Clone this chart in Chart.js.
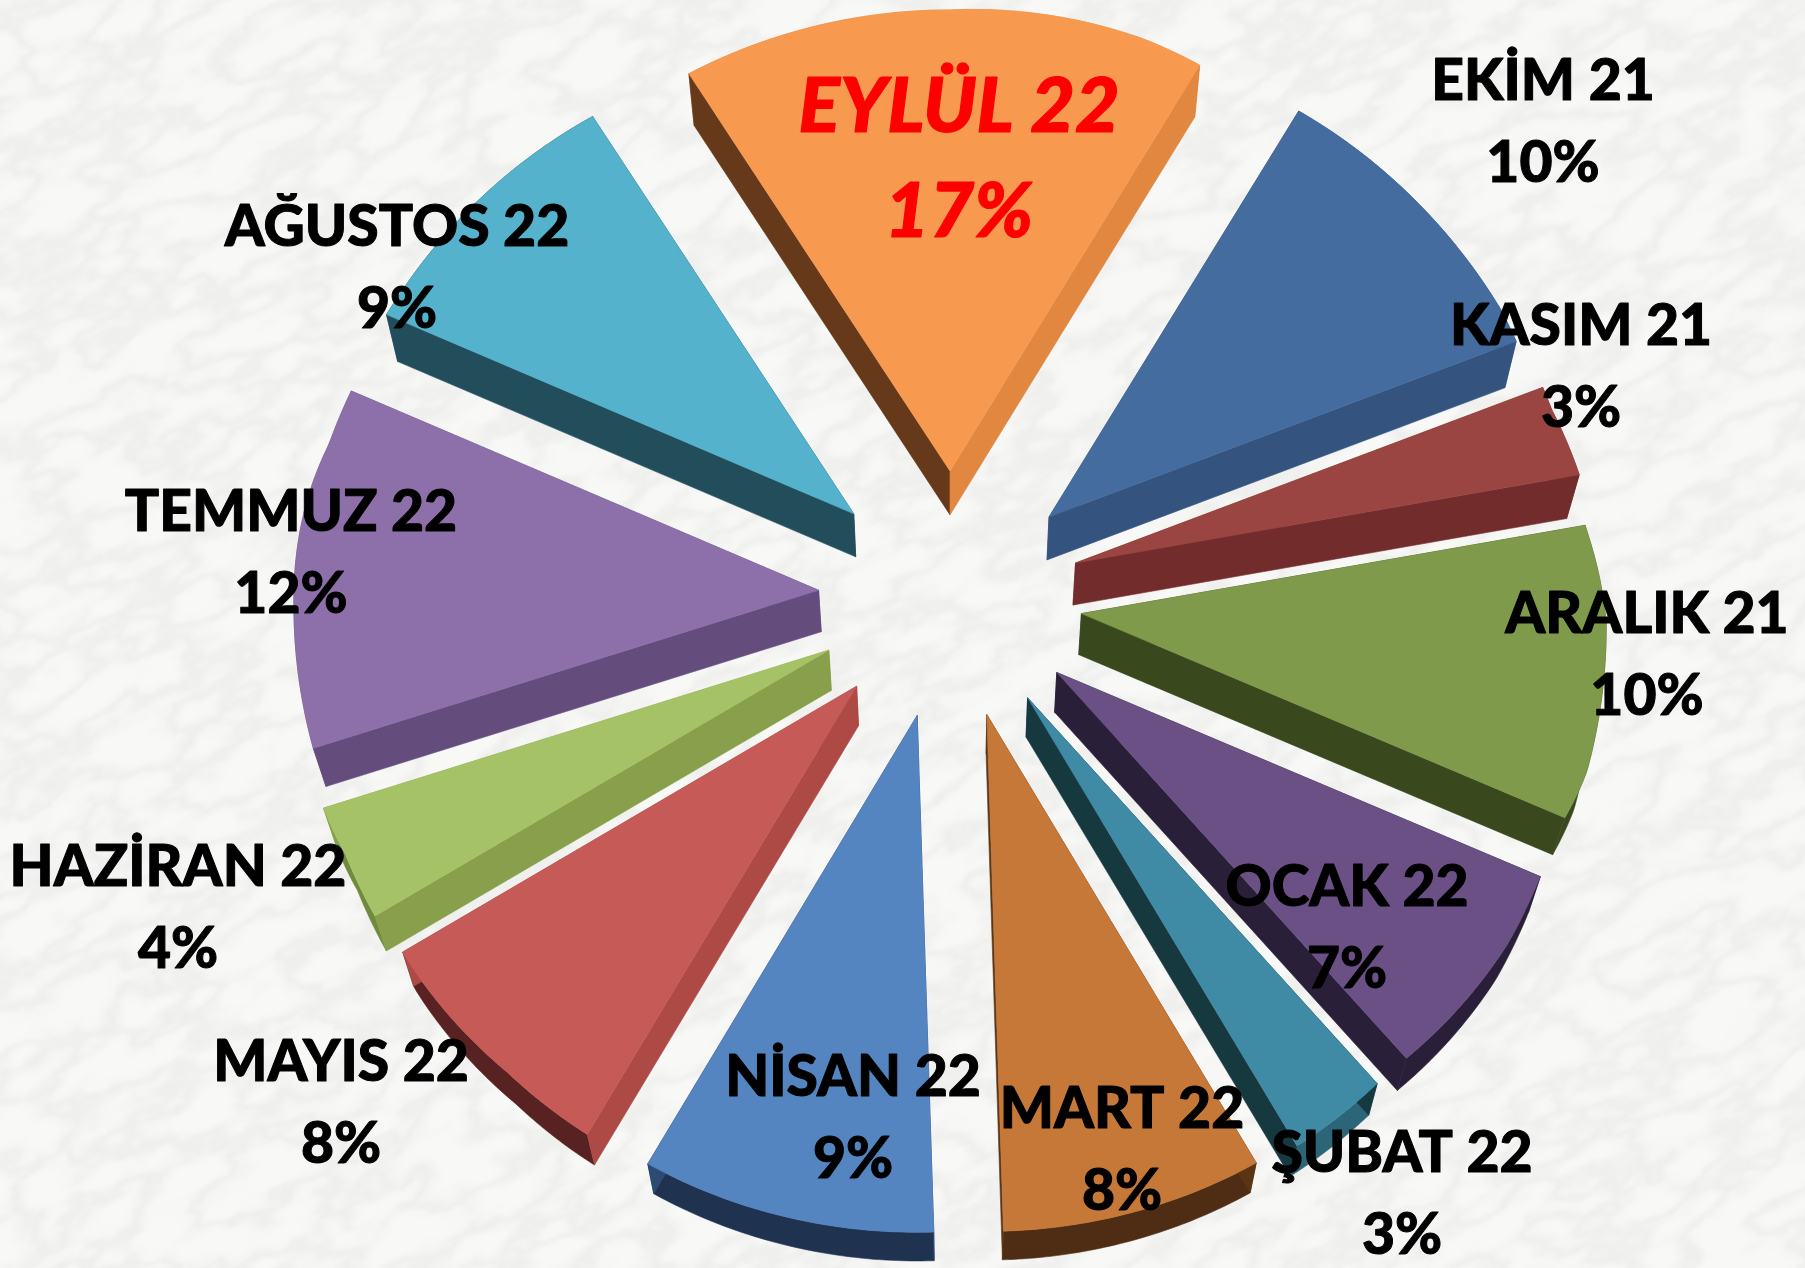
<!DOCTYPE html>
<html lang="tr">
<head>
<meta charset="utf-8">
<title>Aylık Dağılım</title>
<style>
html,body{margin:0;padding:0;width:1805px;height:1268px;overflow:hidden;background:#f8f8f7}
#paper{position:absolute;left:0;top:0;width:1805px;height:1268px;overflow:hidden}
#marble{position:absolute;left:-500px;top:-700px;transform:rotate(-28deg)}
#wrap{position:absolute;left:0;top:0;width:1805px;height:1268px}
</style>
<script src="https://cdn.jsdelivr.net/npm/chart.js@4/dist/chart.umd.min.js"></script>
</head>
<body>
<div id="paper">
<svg id="marble" width="2800" height="2700" xmlns="http://www.w3.org/2000/svg">
  <filter id="veins" x="0" y="0" width="100%" height="100%">
    <feTurbulence type="fractalNoise" baseFrequency="0.011 0.024" numOctaves="6" seed="23"/>
    <feColorMatrix values="0 0 0 0 0.6  0 0 0 0 0.6  0 0 0 0 0.58  1 0 0 0 0"/>
    <feComponentTransfer><feFuncA type="table" tableValues="0 0 0 0 0.05 0.22 0.08 0 0 0 0"/></feComponentTransfer>
    <feGaussianBlur stdDeviation="1.5"/>
  </filter>
  <rect width="2800" height="2700" fill="#f8f8f7"/>
  <rect width="2800" height="2700" filter="url(#veins)"/>
</svg>
</div>
<div id="wrap"><canvas id="c" width="1805" height="1268"></canvas></div>
<script>
// ---- chart data ----
const months = ['EKİM 21','KASIM 21','ARALIK 21','OCAK 22','ŞUBAT 22','MART 22','NİSAN 22','MAYIS 22','HAZİRAN 22','TEMMUZ 22','AĞUSTOS 22','EYLÜL 22'];
const shares = [10,3,10,7,3,8,9,8,4,12,9,17];

// ---- styling ----
const topColors   = ['#456c9e','#9b4542','#7f9a4b','#6b5085','#3f8aa4','#c67838','#5585c0','#c65a57','#a6c266','#8d70aa','#55b2cd','#f79a50'];
const startWalls  = ['#34547f','#732c2c','#3a481e','#2a1f38','#16383f','#5a3515','#2c4a72','#ad4a46','#889f4b','#644d7d','#224e5c','#66391a'];
const endWalls    = ['#34547f','#732c2c','#3a481e','#2a1f38','#16383f','#5a3515','#2c4a72','#ad4a46','#889f4b','#644d7d','#224e5c','#e1873f'];
const outerWalls  = ['#34547f','#732c2c','#3a481e','#2a1f38','#2b6577','#4f2d14','#1f324f','#582122','#6f8a3c','#644d7d','#224e5c','#e1873f'];
const labelXs     = [1543,1581,1647,1347,1402,1122,853,341,178,291,397,959];
const labelYs     = [82,327,615,888,1154,1110,1078,1063,868,513,228,107];
const highlighted = 'EYLÜL 22';

// ---- projection of the exploded pie (tilted camera) ----
const explodeX = 132, explodeY = 124, explodeSag = 7, depth = 0.02, vanishX = 950, vanishY = 2665;
const pieRadius = 530;
const tiltIn  = [-1,-0.861,-0.454,-0.36,-0.218,0,0.279,0.397,0.52,0.75,0.861,1];
const tiltOut = [-0.87,-0.75,-0.376,-0.276,-0.165,0.017,0.298,0.385,0.513,0.728,0.846,0.975];
function tilt(s) {
  for (let i = 1; i < tiltIn.length; i++) {
    if (s <= tiltIn[i]) {
      const f = (s - tiltIn[i - 1]) / (tiltIn[i] - tiltIn[i - 1]);
      return tiltOut[i - 1] + f * (tiltOut[i] - tiltOut[i - 1]);
    }
  }
  return tiltOut[tiltOut.length - 1];
}
function project(ox, oy, c, s, r) {
  const back = Math.min(1, Math.max(0, -s * 2.2));
  const squeeze = 1 + Math.min(s, 0) * 0.085;
  const sideTrim = 1 - 0.01 * (1 - Math.abs(s));
  const leftBack = c < 0 ? 1 + 0.035 * back + 0.03 * Math.max(0, -s - 0.5) : 1;
  const rightLift = c > 0 ? 0.016 * Math.min(1, Math.max(0, (-s - 0.2) / 0.2)) * Math.min(1, c / 0.4) : 0;
  return [ox + c * r * squeeze * leftBack * sideTrim, oy + (tilt(s) - rightLift) * r];
}
function lower(p) { return [p[0] + (vanishX - p[0]) * depth, p[1] + (vanishY - p[1]) * depth]; }
function poly(ctx, pts, fill) {
  ctx.beginPath();
  pts.forEach((p, i) => i ? ctx.lineTo(p[0], p[1]) : ctx.moveTo(p[0], p[1]));
  ctx.closePath();
  ctx.fillStyle = fill; ctx.strokeStyle = fill; ctx.lineWidth = 0.6;
  ctx.fill(); ctx.stroke();
}

const pie3d = {
  id: 'pie3d',
  beforeDatasetDraw(chart, args) {
    const ctx = chart.ctx;
    const arcs = chart.getDatasetMeta(args.index).data;
    const shapes = arcs.map(a => {
      const mid = (a.startAngle + a.endAngle) / 2;
      const cm = Math.cos(mid), sm = Math.sin(mid);
      const ox = a.x + cm * explodeX, oy = a.y + sm * explodeY + cm * cm * explodeSag;
      const outer = [];
      const n = 48;
      for (let k = 0; k <= n; k++) {
        const t = a.startAngle + (a.endAngle - a.startAngle) * k / n;
        outer.push(project(ox, oy, Math.cos(t), Math.sin(t), a.outerRadius));
      }
      return { tip: [ox, oy], outer, color: a.options.backgroundColor };
    });
    shapes.forEach((s, i) => {
      const first = s.outer[0], last = s.outer[s.outer.length - 1];
      poly(ctx, s.outer.concat(s.outer.slice().reverse().map(lower)), outerWalls[i]);
      poly(ctx, [s.tip, first, lower(first), lower(s.tip)], startWalls[i]);
      poly(ctx, [s.tip, last, lower(last), lower(s.tip)], endWalls[i]);
    });
    shapes.forEach(s => poly(ctx, [s.tip].concat(s.outer), s.color));
    return false;
  },
  afterDatasetsDraw(chart) {
    const ctx = chart.ctx;
    ctx.save();
    ctx.textAlign = 'center';
    ctx.textBaseline = 'middle';
    ctx.lineJoin = 'round';
    months.forEach((m, i) => {
      const hot = m === highlighted;
      const colour = hot ? '#ff0000' : '#000000';
      ctx.fillStyle = colour;
      ctx.strokeStyle = colour;
      ctx.lineWidth = hot ? 1.2 : 1;
      ctx.font = (hot ? 'italic 900 77px' : '900 57px') + ' Lato, "Open Sans", sans-serif';
      [[m, 0], [shares[i] + '%', hot ? 105 : 82]].forEach(([text, dy]) => {
        ctx.fillText(text, labelXs[i], labelYs[i] + dy);
        ctx.strokeText(text, labelXs[i], labelYs[i] + dy);
      });
    });
    ctx.restore();
  }
};

new Chart(document.getElementById('c'), {
  type: 'pie',
  data: {
    labels: months,
    datasets: [{ data: shares, backgroundColor: topColors, borderWidth: 0 }]
  },
  options: {
    responsive: false,
    animation: false,
    radius: pieRadius,
    rotation: shares[shares.length - 1] / shares.reduce((a, b) => a + b, 0) * 180,
    layout: { padding: { left: 95, bottom: 78 } },
    plugins: { legend: { display: false }, tooltip: { enabled: false } }
  },
  plugins: [pie3d]
});
</script>
</body>
</html>
